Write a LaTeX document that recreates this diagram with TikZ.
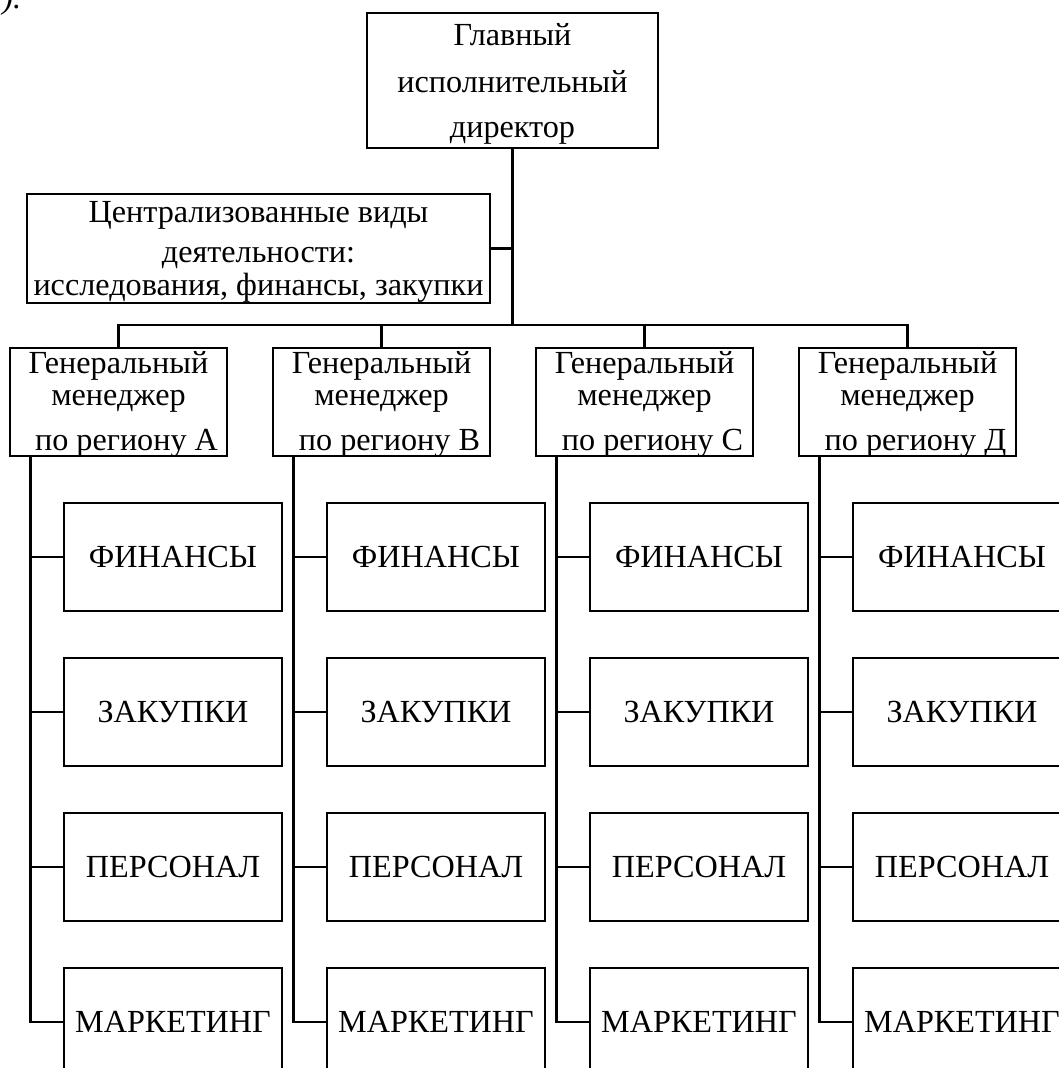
\documentclass[tikz,border=0pt]{standalone}
\usepackage{fontspec}
\setmainfont{Liberation Serif}
\usetikzlibrary{calc}
\begin{document}
\begin{tikzpicture}[x=1pt,y=-1pt,
  line width=2.9pt,
  frame/.style={draw, line width=2.9pt, inner sep=0pt},
  ceobox/.style={frame, minimum width=291pt, minimum height=135pt},
  cenbox/.style={frame, minimum width=463pt, minimum height=109pt},
  gmbox/.style={frame, minimum width=217pt, minimum height=108pt},
  subbox/.style={frame, minimum width=218pt, minimum height=108pt,
    font=\fontsize{32.2}{36}\selectfont},
  txt/.style={anchor=base, inner sep=0pt, font=\fontsize{32.2}{36}\selectfont},
  link/.style={draw, line width=2.9pt}]
\useasboundingbox (0,0) rectangle (1059,1068);
\clip (0,0) rectangle (1059,1068);

% tail of the preceding line of text
\node[txt, anchor=base west, font=\fontsize{32.2}{36}\selectfont\itshape] (tail) at (1,9) {).};

% chief executive
\node[ceobox] (ceo) at (512.5,80.5) {};
\node[txt] (ceo-1) at (512.5,45) {Главный};
\node[txt] (ceo-2) at (512.5,92) {исполнительный};
\node[txt] (ceo-3) at (512.5,137) {директор};

% centralised functions
\node[cenbox] (cen) at (258.5,248.5) {};
\node[txt] (cen-1) at (258.5,222) {Централизованные виды};
\node[txt] (cen-2) at (258.5,262) {деятельности:};
\node[txt] (cen-3) at (258.5,295) {исследования, финансы, закупки};

\coordinate (bar) at (512.5,325);
\draw[link] (ceo.south) -- (bar);
\draw[link] (cen.east) -- (cen.east -| bar);

% regional general managers with their departments
\foreach \c/\x/\l in {A/118.5/А, B/381.5/В, C/644.5/С, D/907.5/Д}{
  \node[gmbox] (gm\c) at (\x,402) {};
  \node[txt] (gm\c-1) at (\x,373) {Генеральный};
  \node[txt] (gm\c-2) at (\x,405) {менеджер};
  \node[txt] (gm\c-3) at (\x+8,450) {по региону \l};
  \coordinate (sp\c) at ($(gm\c.south west)+(22,0)$);
  \foreach \r/\y/\t in {1/557/ФИНАНСЫ, 2/712/ЗАКУПКИ, 3/867/ПЕРСОНАЛ, 4/1022/МАРКЕТИНГ}{
    \node[subbox] (u\c\r) at (\x+54.5,\y) {\t};
  }
  \draw[link] (sp\c) |- (u\c4.west);
  \draw[link] (sp\c |- u\c1.west) -- (u\c1.west);
  \draw[link] (sp\c |- u\c2.west) -- (u\c2.west);
  \draw[link] (sp\c |- u\c3.west) -- (u\c3.west);
}

% branch bar from the chief executive to the managers
\draw[link] (gmA.north) |- (bar) -| (gmD.north);
\draw[link] (gmB.north) -- (gmB.north |- bar);
\draw[link] (gmC.north) -- (gmC.north |- bar);
\end{tikzpicture}
\end{document}
